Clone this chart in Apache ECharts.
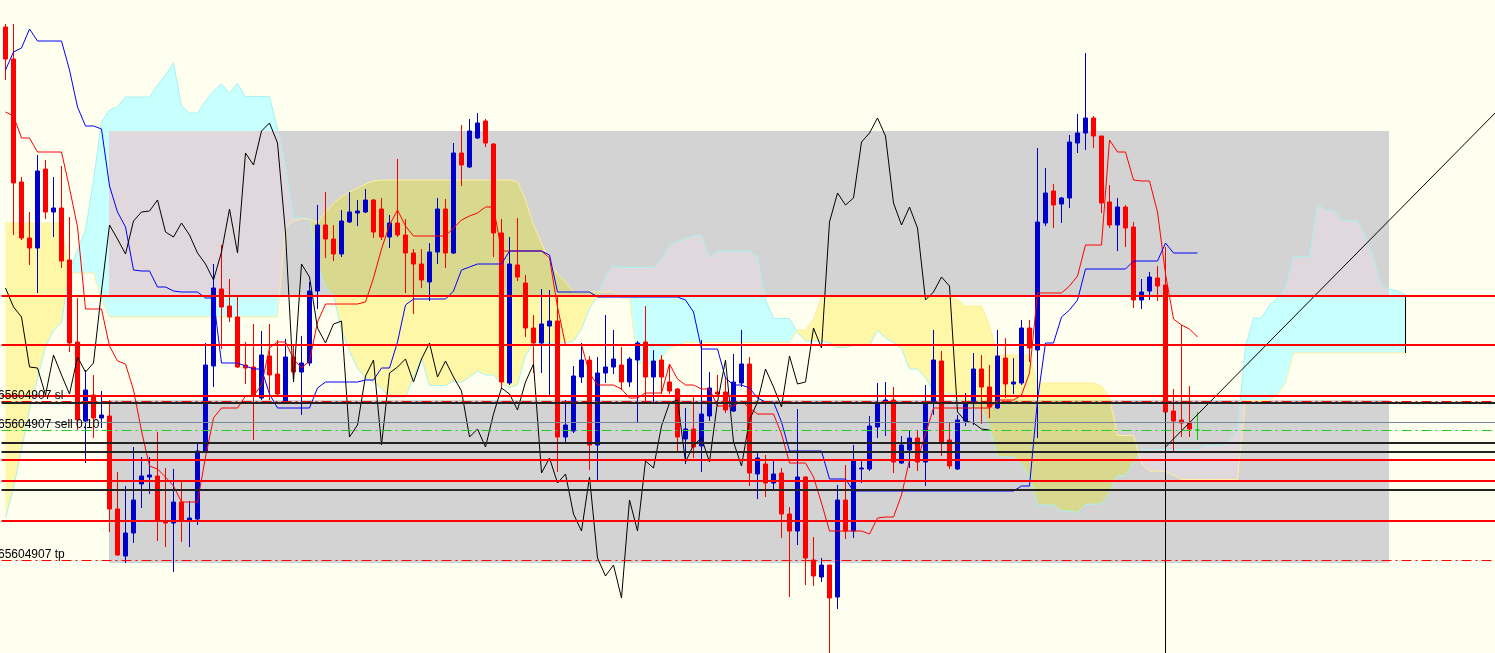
<!DOCTYPE html>
<html><head><meta charset="utf-8">
<script src="https://cdn.jsdelivr.net/npm/echarts@6/dist/echarts.min.js"></script>
<style>html,body{margin:0;padding:0;background:#FFFFF0;}#c{width:1495px;height:653px;}</style>
</head><body><div id="c"></div>
<script>
// ---- price data (arbitrary price units, higher = higher price) ----
// candles: [open, close, low, high], one per bar (bar 149 is the current doji)
const candles = [
[626,594,573,629],[594,470,418,629],[471,415,413,476],[415,405,388,441],[405,482,360,498],
[484,441,434,493],[441,445,416,476],[445,392,385,487],[393,310,301,436],[311,233,223,355],
[232,263,190,283],[258,235,215,278],[235,238,225,262],[237,144,121,253],[144,98,97,181],
[97,120,90,167],[120,153,110,206],[169,177,145,196],[176,178,159,196],[177,133,112,221],
[132,130,106,185],[130,151,81,184],[151,133,111,173],[132,135,106,152],[134,202,128,210],
[201,288,201,310],[287,365,266,389],[364,346,304,408],[347,336,331,374],[336,286,285,357],
[288,285,269,311],[286,258,213,329],[255,298,253,322],[297,278,253,329],[279,259,257,313],
[251,296,251,314],[296,281,273,309],[281,290,238,317],[290,362,287,371],[362,428,344,448],
[428,414,395,461],[414,399,392,428],[399,432,396,443],[431,441,430,461],[440,442,427,453],
[441,453,440,464],[453,421,415,454],[444,416,413,455],[416,430,405,438],[430,418,416,494],
[418,400,360,434],[400,389,339,404],[389,373,365,404],[371,401,352,410],[401,444,389,455],
[444,400,385,454],[400,500,399,510],[500,488,467,528],[486,522,485,534],[515,530,514,540],
[532,510,506,534],[509,420,396,510],[420,271,264,434],[270,389,268,416],[388,376,372,435],
[370,325,316,378],[325,310,280,338],[310,329,280,364],[327,332,256,363],[332,216,181,356],
[216,228,210,253],[222,277,220,287],[276,293,270,310],[293,208,183,297],[208,280,172,296],
[280,286,270,338],[286,294,279,323],[288,271,263,306],[271,294,266,296],[293,310,231,312],
[311,276,250,347],[276,292,251,303],[293,276,259,298],[271,262,259,288],[264,216,201,265],
[214,224,189,245],[224,206,195,256],[207,239,181,313],[237,265,232,281],[261,259,257,278],
[261,243,240,276],[242,271,241,299],[270,289,266,323],[289,180,167,296],[179,195,154,201],
[189,170,156,198],[170,179,164,193],[180,139,115,185],[139,122,56,146],[122,176,108,244],
[176,95,68,177],[93,77,67,116],[76,88,71,95],[88,55,0,88],[56,153,44,168],
[153,122,114,188],[122,192,115,208],[184,185,170,194],[184,227,182,237],[226,250,215,270],
[250,253,217,271],[253,191,180,266],[190,208,189,217],[203,215,185,223],[215,191,182,223],
[191,251,167,268],[250,293,238,323],[292,211,197,302],[213,187,184,230],[184,233,183,238],
[232,251,227,260],[250,284,228,300],[284,266,229,298],[266,246,235,288],[245,297,244,323],
[295,269,255,315],[269,271,259,295],[270,325,268,333],[325,305,291,333],[303,431,215,505],
[430,460,427,485],[462,448,425,469],[449,455,430,456],[455,511,445,518],[510,520,500,539],
[520,535,503,600],[535,517,505,537],[517,450,440,517],[451,428,425,468],[428,446,402,455],
[446,425,406,448],[426,353,345,431],[353,361,344,374],[362,376,353,381],[375,367,352,387],
[368,241,241,406],[242,232,200,264],[233,230,216,328],[230,224,216,267],[223,223,213,241]
];
const currentBarIndex = 149;

const tenkan = [
541,537,515,515,501,501,501,501,465,426,
344,344,344,307,292,289,263,222,187,184,
176,167,151,151,151,196,235,245,245,245,
257,257,268,305,311,311,294,285,292,331,
349,349,349,349,349,351,375,404,428,443,
427,417,417,417,417,417,425,433,437,440,
446,446,402,402,402,402,402,402,395,346,
308,308,308,280,268,268,268,264,255,255,
260,260,260,289,274,268,268,264,264,247,
247,247,252,245,239,239,239,219,190,190,
190,176,150,122,122,122,122,122,119,135,
136,136,158,193,193,219,245,245,245,245,
245,245,245,245,253,253,253,258,280,360,
360,360,360,367,377,408,408,408,513,501,
501,473,472,472,441,379,334,328,324,316];

const kijun = [
583,601,605,624,612,612,612,612,583,546,
527,527,524,467,441,426,383,382,382,366,
366,362,361,361,361,355,355,290,290,290,
287,284,284,259,245,245,245,245,245,265,
271,271,271,271,271,273,273,285,285,311,
348,354,354,354,354,354,362,383,386,389,
389,389,389,402,402,402,402,402,398,361,
361,361,361,361,356,356,356,356,356,356,
356,356,356,356,356,353,341,304,304,304,
275,268,268,265,255,251,251,231,202,202,
202,202,202,174,174,174,162,162,162,162,
162,162,162,162,162,162,162,162,162,162,
162,162,162,162,162,162,162,167,167,253,
310,310,336,343,353,384,384,384,384,384,
384,392,392,392,392,410,400,400,400,400];

// chikou span: plotted 26 bars back (bars 0..123)
const chikou = [
365,346,336,286,285,258,298,278,259,296,
281,290,362,428,414,399,432,441,442,453,
421,416,430,418,400,389,373,401,444,400,
500,488,522,530,510,420,271,389,376,325,
310,329,332,216,228,277,293,208,280,286,
294,271,294,310,276,292,276,262,216,224,
206,239,265,259,243,271,289,180,195,170,
179,139,122,176,95,77,88,55,153,122,
192,185,227,250,253,191,208,215,191,251,
293,211,187,233,251,284,266,246,297,269,
271,325,305,431,460,448,455,511,520,535,
517,450,428,446,425,353,361,376,367,241,
232,230,224,223];

// senkou spans (bars 0..175, projected 26 bars ahead)
const senkouA = [
135,165,203,243,275,306,323,330,383,403,
423,473,531,543,546,556,556,556,556,568,
578,590,547,540,540,552,562,569,560,569.5,
556.5,556.5,556.5,556.5,524,486,435.5,435.5,434,387,
366.5,357.5,323,302,284.5,275,271,264.5,256,256,
256,275.5,295,267.5,267.5,267.5,272,270.5,276,282,
278,278,269.5,265,268.5,298,310,310,310,310,
310,312,324,344.5,356.5,377,387.5,385.5,385.5,385.5,
385.5,385.5,393.5,408,411.5,414.5,417.5,417.5,395.5,402,
402,402,402,402,396.5,353.5,334.5,334.5,334.5,320.5,
312,312,312,310,305.5,305.5,308,308,308,322.5,
315,310.5,304.5,284,284,275.5,261,257.5,260,255,
247,245,245,225,196,196,196,189,176,148,
148,148,142,142,140.5,148.5,149,149,160,177.5,
177.5,190.5,203.5,203.5,203.5,203.5,203.5,203.5,203.5,203.5,
207.5,207.5,207.5,212.5,223.5,306.5,335,335,348,355,
365,396,396,396,448.5,442.5,442.5,432.5,432,432,
416.5,394.5,367,364,362,358];

const senkouB = [
430,430,430,430,430,430,430,430,380,380,
380,380,353,336,336,336,336,336,336,336,
336,336,336,336,336,336,336,336,336,336,
336,336,336,336,336,426,432,434,434,430,
441,450,456,461,465,469,472,473,473,473,
473,473,473,473,473,473,473,473,473,473,
473,473,473,473,471,453,428,410,391,379,
371,361,361,361,361,361,361,355,355,289.5,
289.5,289.5,295.5,304.5,307.5,310.5,310.5,310.5,310.5,310.5,
310.5,310.5,310.5,310.5,310.5,310.5,310.5,310.5,310.5,323,
323,334,356,356,356,356,356,356,356,356,
356,356,356,356,356,356,356,356,356,353.5,
347,347,347,327.5,298,298,298,298,298,270,
270,270,270,270,270,270,270,267,255,217.5,
217.5,217.5,189,182,182,181.5,178,173.5,173.5,173.5,
173.5,173.5,173.5,173.5,173.5,252.5,252.5,252.5,252.5,259,
269.5,300,300,300,300,300,300,300,300,300,
300,300,300,300,300,300];

// trade zones: [fromBar, toBar, lowPrice, highPrice]
const zoneUpper = [13, 173, 357, 522];
const zoneLower = [13, 173, 90, 253];

// horizontal levels
const redLevels = [357, 308, 257, 193, 172, 132];
const blackLevels = [210, 201, 163];
const slLevel = 251.5;
const slShadowLevel = 250;
const bidLevel = 230.5;
const entryLevel = 222.5;
const tpLevel = 92.5;
const orderLabels = ['65604907 sl', '65604907 sell 0.10', '65604907 tp'];
const orderLabelLevels = [slLevel, entryLevel, tpLevel];

// trend line and vertical marker: [bar, price]
const trendLine = [[145, 206], [188, 554.6]];
const verticalLine = [[145, 241], [145, 0]];

const barCount = 189;
const bars = Array.from({length: barCount}, (_, i) => String(i));

// ---- colours ----
const COL = {
  bg: '#FFFFF0', gray: '#D3D3D3',
  cyan: '#C8FFFF', yellow: '#FFF7A8',
  cyanOnGray: '#E0D8DC', yellowOnGray: '#D8D98E',
  spanA: '#A8F2F2', spanB: '#FFEE9E',
  bull: '#0000CD', bear: '#FF0000'
};

function clipAxis(pts, ax, v, keepGreater) {
  const out = [];
  for (let i = 0; i < pts.length; i++) {
    const p = pts[i], q = pts[(i + 1) % pts.length];
    const pin = keepGreater ? p[ax] >= v : p[ax] <= v;
    const qin = keepGreater ? q[ax] >= v : q[ax] <= v;
    if (pin) out.push(p);
    if (pin !== qin) {
      const t = (v - p[ax]) / (q[ax] - p[ax]);
      out.push([p[0] + t * (q[0] - p[0]), p[1] + t * (q[1] - p[1])]);
    }
  }
  return out;
}
function clipRect(pts, r) {
  let c = clipAxis(pts, 0, r[0], true);
  if (c.length) c = clipAxis(c, 0, r[2], false);
  if (c.length) c = clipAxis(c, 1, r[1], true);
  if (c.length) c = clipAxis(c, 1, r[3], false);
  return c;
}

function renderCloud(params, api) {
  const n = senkouA.length;
  const pa = [], pb = [];
  for (let i = 0; i < n; i++) { pa.push(api.coord([i, senkouA[i]])); pb.push(api.coord([i, senkouB[i]])); }
  const runs = []; let cur = null;
  for (let i = 0; i < n; i++) {
    const d = senkouA[i] - senkouB[i];
    const s = d > 0 ? 1 : d < 0 ? -1 : (cur ? cur.s : 1);
    if (!cur) cur = {s, a: [pa[i]], b: [pb[i]]};
    else if (s === cur.s) { cur.a.push(pa[i]); cur.b.push(pb[i]); }
    else {
      const d0 = senkouA[i - 1] - senkouB[i - 1];
      const t = d0 / (d0 - d);
      const cp = [pa[i-1][0] + t * (pa[i][0] - pa[i-1][0]), pa[i-1][1] + t * (pa[i][1] - pa[i-1][1])];
      cur.a.push(cp); cur.b.push(cp); runs.push(cur);
      cur = {s, a: [cp, pa[i]], b: [cp, pb[i]]};
    }
  }
  runs.push(cur);
  const polys = runs.map(r => ({s: r.s, pts: r.a.concat(r.b.slice().reverse())}));
  const children = [];
  polys.forEach(p => children.push({type: 'polygon', shape: {points: p.pts}, style: {fill: p.s > 0 ? COL.cyan : COL.yellow}}));
  const rects = [zoneUpper, zoneLower].map(z => {
    const p1 = api.coord([z[0], z[3]]), p2 = api.coord([z[1], z[2]]);
    return [Math.floor(p1[0]), Math.round(p1[1]), Math.floor(p2[0]), Math.round(p2[1])];
  });
  rects.forEach(r => children.push({type: 'rect', shape: {x: r[0], y: r[1], width: r[2] - r[0], height: r[3] - r[1]}, style: {fill: COL.gray}}));
  polys.forEach(p => rects.forEach(r => {
    const c = clipRect(p.pts, r);
    if (c.length >= 3) children.push({type: 'polygon', shape: {points: c}, style: {fill: p.s > 0 ? COL.cyanOnGray : COL.yellowOnGray}});
  }));
  return {type: 'group', children};
}

function renderLabels(params, api) {
  const y = api.coord([0, orderLabelLevels[params.dataIndex]])[1];
  return {type: 'text', x: -2, y: y,
    style: {text: orderLabels[params.dataIndex], fill: '#000', font: '12px "Liberation Sans", Arial, sans-serif', align: 'left', verticalAlign: 'bottom'}};
}

const candleData = candles.map((c, i) => i === currentBarIndex
  ? {value: c, itemStyle: {color: '#00CC00', color0: '#00CC00', borderColor: '#00CC00', borderColor0: '#00CC00'}}
  : c);

function hLine(v, color, width, type) {
  return {yAxis: v, lineStyle: {color: color, width: width, type: type}};
}
const levelData = [].concat(
  redLevels.map(v => hLine(v, '#FF0000', 2, 'solid')),
  blackLevels.map(v => hLine(v, '#222222', 2, 'solid')),
  [hLine(slShadowLevel, '#222222', 2, 'solid'),
   hLine(slLevel, '#FF0000', 1, [10, 4, 2, 4]),
   hLine(bidLevel, '#778899', 1, 'solid'),
   hLine(entryLevel, '#22CC22', 1, [10, 4, 2, 4]),
   hLine(tpLevel, '#FF0000', 1, [10, 4, 2, 4])]
);

function lineSeries(name, data, color, z, extra) {
  return Object.assign({name, type: 'line', data, symbol: 'none', silent: true, z,
    lineStyle: {color, width: 1}, emphasis: {disabled: true}, animation: false}, extra || {});
}

const chart = echarts.init(document.getElementById('c'), null, {renderer: 'canvas'});
chart.setOption({
  backgroundColor: COL.bg,
  animation: false,
  grid: {left: 1.5, top: 0, width: barCount * 8, height: 653, containLabel: false, outerBoundsMode: 'none'},
  xAxis: {type: 'category', data: bars, boundaryGap: true, show: false},
  yAxis: {type: 'value', min: 0, max: 653, show: false},
  series: [
    {type: 'custom', name: 'cloud', renderItem: renderCloud, data: [[0, 0]], encode: {x: 0, y: 1}, silent: true, z: 1, clip: true, animation: false},
    lineSeries('SenkouA', senkouA, COL.spanA, 2),
    lineSeries('SenkouB', senkouB, COL.spanB, 2),
    {type: 'candlestick', name: 'price', data: candleData, barWidth: 4, silent: true, z: 3,
      itemStyle: {color: COL.bull, color0: COL.bear, borderColor: COL.bull, borderColor0: COL.bear, borderWidth: 1},
      emphasis: {disabled: true}, animation: false},
    lineSeries('Tenkan', tenkan, '#FF0000', 4),
    lineSeries('Kijun', kijun, '#0000FF', 4),
    lineSeries('Chikou', chikou, '#000000', 4, {
      markLine: {silent: true, symbol: ['none', 'none'], label: {show: false}, animation: false, data: levelData}
    }),
    lineSeries('Trend', trendLine, '#000000', 4),
    lineSeries('Vertical', verticalLine, '#000000', 4),
    lineSeries('CloudEnd', [[175, senkouA[175]], [175, senkouB[175]]], '#000000', 4),
    {type: 'custom', name: 'labels', renderItem: renderLabels, data: orderLabelLevels.map(v => [0, v]), encode: {x: 0, y: 1}, silent: true, z: 6, clip: false, animation: false}
  ]
});
</script>
</body></html>
